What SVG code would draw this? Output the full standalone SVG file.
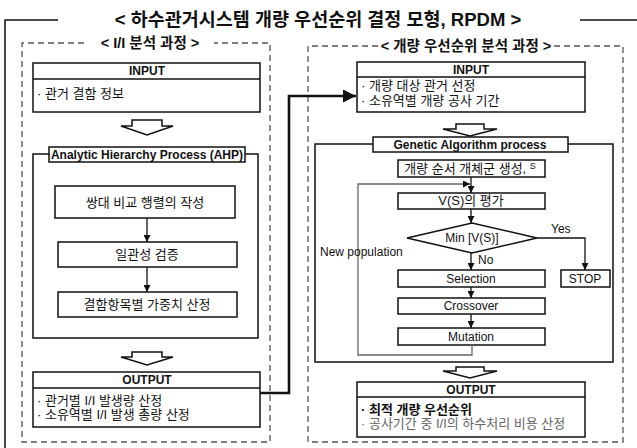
<svg xmlns="http://www.w3.org/2000/svg" width="637" height="448" viewBox="0 0 637 448">
<defs>
<style>
text{font-family:"Liberation Sans","Noto Sans CJK KR",Arial,sans-serif;fill:#111;}
.t{font-size:18.5px;font-weight:bold;}
.sec{font-size:14.5px;font-weight:bold;}
.h{font-size:12px;font-weight:bold;text-anchor:middle;}
.b{font-size:13px;}
.c{font-size:13px;text-anchor:middle;}
.e{font-size:12px;}
.ec{font-size:12px;text-anchor:middle;}
.box{fill:#fff;stroke:#111;stroke-width:1.5;}
.dash{fill:none;stroke:#555;stroke-width:1.3;stroke-dasharray:6,4;}
.ln{fill:none;stroke:#111;stroke-width:1.3;}
.gl{fill:none;stroke:#666;stroke-width:1.3;}
.hol{fill:#fff;stroke:#111;stroke-width:1.5;stroke-linejoin:miter;}
</style>
<marker id="ah" viewBox="0 0 10 10" refX="10" refY="5" markerWidth="7" markerHeight="7" markerUnits="userSpaceOnUse" orient="auto"><path d="M0,0 L10,5 L0,10 z" fill="#111"/></marker>
<marker id="ahb" viewBox="0 0 10 10" refX="10" refY="5" markerWidth="5" markerHeight="5" orient="auto"><path d="M0,0 L10,5 L0,10 z" fill="#111"/></marker>
</defs>

<g id="frame">
<path d="M58,20 H5 V448" fill="none" stroke="#111" stroke-width="1.5"/>
<line x1="580" y1="20" x2="637" y2="20" stroke="#111" stroke-width="1.5"/>
<text class="t" x="318" y="26" text-anchor="middle">&lt; 하수관거시스템 개량 우선순위 결정 모형, RPDM &gt;</text>
</g>

<g id="left-section">
<path class="dash" d="M84,43 H22 V442 H270 V43 H214"/>
<text class="sec" x="150" y="48" text-anchor="middle">&lt; I/I 분석 과정 &gt;</text>
</g>
<g id="right-section">
<path class="dash" d="M378,46 H308 V442 H623 V46 H553"/>
<text class="sec" x="466" y="51" text-anchor="middle">&lt; 개량 우선순위 분석 과정 &gt;</text>
</g>

<g id="left-input">
<rect class="box" x="33" y="63" width="227" height="49"/>
<line class="ln" x1="33" y1="79" x2="260" y2="79"/>
<text class="h" x="147" y="75">INPUT</text>
<text class="b" x="37" y="98">· 관거 결함 정보</text>
</g>
<g id="left-arrow1"><polygon class="hol" points="132,120 162,120 162,126 173,126 147,135 121,126 132,126"/></g>

<g id="ahp">
<rect class="box" x="33" y="154" width="225" height="184"/>
<rect class="box" x="49" y="147" width="196" height="15"/>
<text class="h" x="147" y="159">Analytic Hierarchy Process (AHP)</text>
</g>
<g id="ahp1"><rect class="box" x="55" y="186" width="180" height="32"/><text class="c" x="145" y="207">쌍대 비교 행렬의 작성</text></g>
<g id="ahp2"><rect class="box" x="58" y="242" width="179" height="25"/><text class="c" x="147" y="259">일관성 검증</text></g>
<g id="ahp3"><rect class="box" x="58" y="292" width="179" height="25"/><text class="c" x="147" y="309">결함항목별 가중치 산정</text></g>

<g id="left-arrow2"><polygon class="hol" points="132,352 162,352 162,357 173,357 147,365 121,357 132,357"/></g>

<g id="left-output">
<rect class="box" x="33" y="372" width="227" height="55"/>
<line class="ln" x1="33" y1="388" x2="260" y2="388"/>
<text class="h" x="147" y="384">OUTPUT</text>
<text class="b" x="37" y="405">· 관거별 I/I 발생량 산정</text>
<text class="b" x="37" y="419">· 소유역별 I/I 발생 총량 산정</text>
</g>

<g id="right-input">
<rect class="box" x="357" y="62" width="228" height="50"/>
<line class="ln" x1="357" y1="77" x2="585" y2="77"/>
<text class="h" x="471" y="74">INPUT</text>
<text class="b" x="361" y="90">· 개량 대상 관거 선정</text>
<text class="b" x="361" y="105">· 소유역별 개량 공사 기간</text>
</g>
<g id="right-arrow1"><polygon class="hol" points="456,124 484,124 484,129 497,129 470,136 443,129 456,129"/></g>

<g id="ga">
<rect class="box" x="315" y="144" width="298" height="218"/>
<rect class="box" x="373" y="137" width="195" height="15"/>
<text class="h" x="470" y="149">Genetic Algorithm process</text>
</g>
<g id="ga-init"><rect class="box" x="398" y="160" width="147" height="17"/><text class="c" x="470" y="173">개량 순서 개체군 생성, <tspan font-size="9" dy="-4">S</tspan></text></g>
<g id="ga-eval"><rect class="box" x="398" y="193" width="147" height="16"/><text class="c" x="471" y="205">V(S)의 평가</text></g>
<g id="ga-min"><polygon class="box" points="407,238 472,223 537,238 472,253"/><text class="ec" x="472" y="242">Min [V(S)]</text></g>
<g id="ga-stop"><rect class="box" x="561" y="270" width="49" height="17"/><text class="ec" x="585" y="283">STOP</text></g>
<g id="ga-sel"><rect class="box" x="398" y="270" width="147" height="17"/><text class="ec" x="471" y="283">Selection</text></g>
<g id="ga-cross"><rect class="box" x="398" y="298" width="147" height="16"/><text class="ec" x="471" y="310">Crossover</text></g>
<g id="ga-mut"><rect class="box" x="398" y="328" width="147" height="17"/><text class="ec" x="471" y="341">Mutation</text></g>

<g id="right-arrow2"><polygon class="hol" points="456,367 484,367 484,371 497,371 470,378 443,371 456,371"/></g>

<g id="right-output">
<rect class="box" x="357" y="382" width="228" height="55"/>
<line class="ln" x1="357" y1="397" x2="585" y2="397"/>
<text class="h" x="471" y="394">OUTPUT</text>
<text class="b" x="361" y="414" font-weight="bold">· 최적 개량 우선순위</text>
<text class="b" x="361" y="428" style="fill:#666">· 공사기간 중 I/I의 하수처리 비용 산정</text>
</g>

<g id="connectors">
<line class="ln" x1="147" y1="218" x2="147" y2="242" marker-end="url(#ah)"/>
<line class="ln" x1="147" y1="267" x2="147" y2="292" marker-end="url(#ah)"/>
<path d="M260,393 H289 V96 H356" fill="none" stroke="#111" stroke-width="2.6" marker-end="url(#ahb)"/>
<line class="ln" x1="471" y1="177" x2="471" y2="193" marker-end="url(#ah)"/>
<line class="ln" x1="471" y1="209" x2="471" y2="223" marker-end="url(#ah)"/>
<line class="ln" x1="471" y1="253" x2="471" y2="270" marker-end="url(#ah)"/>
<line class="ln" x1="471" y1="287" x2="471" y2="298" marker-end="url(#ah)"/>
<line class="ln" x1="471" y1="314" x2="471" y2="328" marker-end="url(#ah)"/>
<path class="ln" d="M537,238 H585 V270" marker-end="url(#ah)"/>
<path class="gl" d="M472,345 V355 H358 V184 H470" marker-end="url(#ah)"/>
<text class="e" x="551" y="233">Yes</text>
<text class="e" x="478" y="264">No</text>
<text class="e" x="320" y="256">New population</text>
</g>
</svg>
